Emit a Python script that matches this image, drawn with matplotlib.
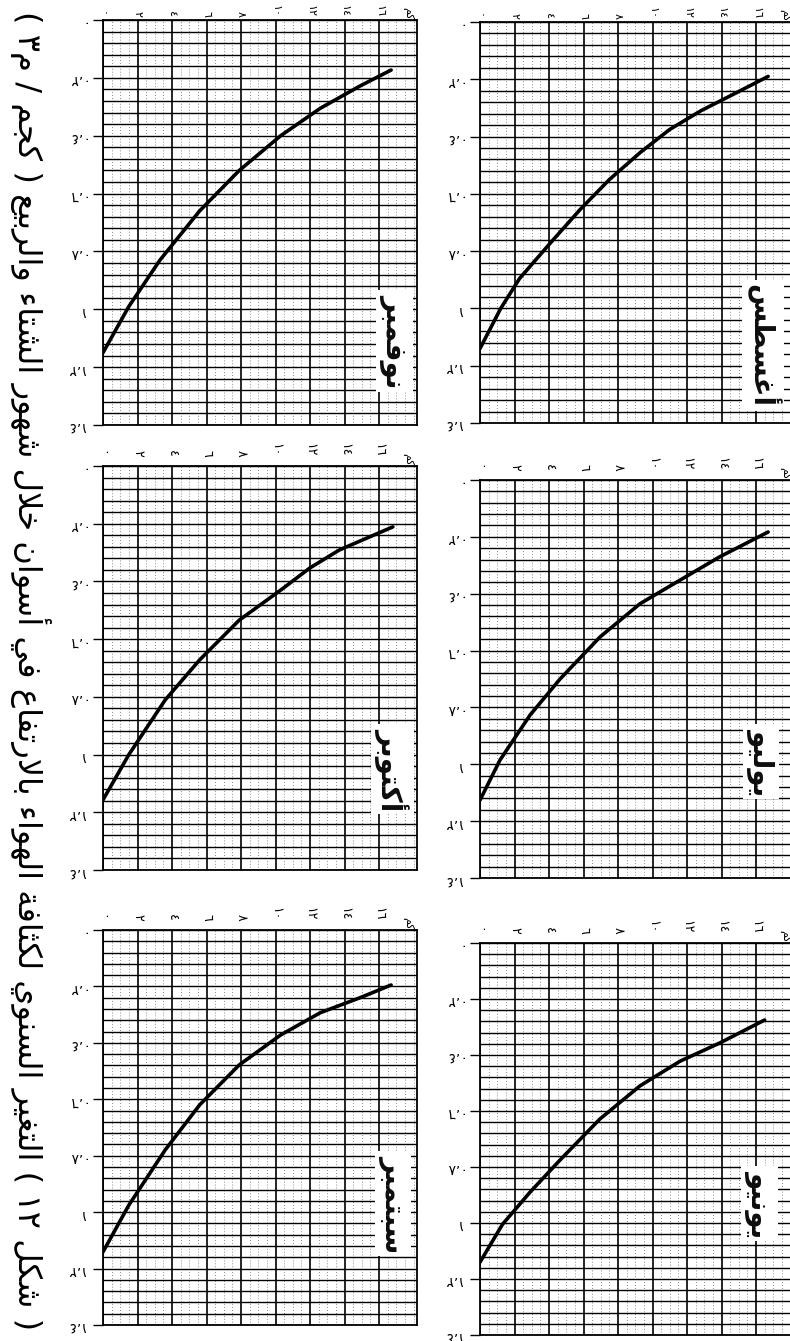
import matplotlib
matplotlib.use("Agg")
import matplotlib.pyplot as plt
import numpy as np

# ---- data (altitude km, air density kg/m3) ----
months = ["نوفمبر", "أغسطس", "أكتوبر", "يوليو", "سبتمبر", "يونيو"]

nov_alt = [0, 1.5, 3.3, 5.6, 7.9, 10.3, 12.6, 14.9, 16.7]
nov_den = [1.15, 0.99, 0.83, 0.66, 0.52, 0.40, 0.305, 0.228, 0.173]

aug_alt = [0, 1.2, 2.3, 4.1, 5.8, 7.5, 9.3, 11.0, 12.8, 14.5, 16.7]
aug_den = [1.14, 1.0, 0.895, 0.77, 0.655, 0.55, 0.455, 0.375, 0.31, 0.258, 0.19]

oct_alt = [0, 1.5, 3.6, 5.6, 7.9, 10.3, 12.0, 13.7, 16.8]
oct_den = [1.157, 1.0, 0.811, 0.672, 0.534, 0.43, 0.353, 0.291, 0.211]

jul_alt = [0, 1.16, 2.9, 4.64, 6.96, 9.28, 11.6, 13.9, 16.7]
jul_den = [1.126, 0.985, 0.827, 0.70, 0.552, 0.435, 0.352, 0.27, 0.183]

sep_alt = [0, 1.5, 3.6, 5.6, 7.9, 10.3, 12.6, 14.9, 16.7]
sep_den = [1.141, 0.975, 0.78, 0.62, 0.478, 0.372, 0.293, 0.24, 0.195]

jun_alt = [0, 1.3, 2.9, 4.64, 6.96, 9.28, 11.6, 13.9, 16.5]
jun_den = [1.14, 1.005, 0.89, 0.775, 0.628, 0.51, 0.422, 0.357, 0.275]

alt_ticks = [0, 2, 4, 6, 8, 10, 12, 14, 16]
den_ticks = [0, 0.2, 0.4, 0.6, 0.8, 1.0, 1.2, 1.4]
den_labels = ["٠", "٠،٢", "٠،٤", "٠،٦", "٠،٨", "١", "١،٢", "١،٤"]

title = "( شكل ١٢ ) التغير السنوي لكثافة الهواء بالارتفاع في أسوان خلال شهور الشتاء والربيع ( كجم / م٣ )"
unit = "كم"

# ---- minimal arabic shaping (matplotlib has no complex text layout) ----
FORMS = {
    "ء": ("\ufe80",),
    "أ": ("\ufe83", "\ufe84"),
    "ا": ("\ufe8d", "\ufe8e"),
    "ب": ("\ufe8f", "\ufe90", "\ufe91", "\ufe92"),
    "ة": ("\ufe93", "\ufe94"),
    "ت": ("\ufe95", "\ufe96", "\ufe97", "\ufe98"),
    "ث": ("\ufe99", "\ufe9a", "\ufe9b", "\ufe9c"),
    "ج": ("\ufe9d", "\ufe9e", "\ufe9f", "\ufea0"),
    "خ": ("\ufea5", "\ufea6", "\ufea7", "\ufea8"),
    "ر": ("\ufead", "\ufeae"),
    "س": ("\ufeb1", "\ufeb2", "\ufeb3", "\ufeb4"),
    "ش": ("\ufeb5", "\ufeb6", "\ufeb7", "\ufeb8"),
    "ط": ("\ufec1", "\ufec2", "\ufec3", "\ufec4"),
    "ع": ("\ufec9", "\ufeca", "\ufecb", "\ufecc"),
    "غ": ("\ufecd", "\ufece", "\ufecf", "\ufed0"),
    "ف": ("\ufed1", "\ufed2", "\ufed3", "\ufed4"),
    "ك": ("\ufed9", "\ufeda", "\ufedb", "\ufedc"),
    "ل": ("\ufedd", "\ufede", "\ufedf", "\ufee0"),
    "م": ("\ufee1", "\ufee2", "\ufee3", "\ufee4"),
    "ن": ("\ufee5", "\ufee6", "\ufee7", "\ufee8"),
    "ه": ("\ufee9", "\ufeea", "\ufeeb", "\ufeec"),
    "و": ("\ufeed", "\ufeee"),
    "ي": ("\ufef1", "\ufef2", "\ufef3", "\ufef4"),
    "لا": ("\ufefb", "\ufefc"),
}
MIRROR = {"(": ")", ")": "("}


def shape(word):
    units, i = [], 0
    while i < len(word):
        if word[i:i + 2] == "لا":
            units.append("لا")
            i += 2
        else:
            units.append(word[i])
            i += 1
    out = []
    for k, u in enumerate(units):
        f = FORMS.get(u)
        if f is None:
            out.append(u)
            continue
        prev = FORMS.get(units[k - 1]) if k > 0 else None
        nxt = FORMS.get(units[k + 1]) if k + 1 < len(units) else None
        jp = prev is not None and len(prev) == 4 and len(f) > 1
        jn = len(f) == 4 and nxt is not None and len(nxt) > 1
        if jp and jn:
            out.append(f[3])
        elif jp:
            out.append(f[1])
        elif jn:
            out.append(f[2])
        else:
            out.append(f[0])
    return out


def rtl(text):
    words = []
    for w in text.split(" "):
        if w and all("\u0660" <= c <= "\u0669" for c in w):
            words.append(w)
        else:
            words.append("".join(MIRROR.get(c, c) for c in reversed(shape(w))))
    return " ".join(reversed(words))


def ar_digits(n):
    return str(n).translate(str.maketrans("0123456789", "٠١٢٣٤٥٦٧٨٩"))


# ---- layout (pixels of the 790 x 1341 page) ----
W, H = 790, 1341
fig = plt.figure(figsize=(W / 100, H / 100), dpi=100)
fig.patch.set_facecolor("white")


def px_box(x0, y0, x1, y1):
    return [x0 / W, 1 - y1 / H, (x1 - x0) / W, (y1 - y0) / H]


panels = [
    (nov_alt, nov_den, (103, 20, 417, 425), (16.9, 1.11)),
    (aug_alt, aug_den, (480, 22, 794, 423), (16.4, 1.13)),
    (oct_alt, oct_den, (103, 466, 417, 870), (16.8, 1.05)),
    (jul_alt, jul_den, (480, 480, 794, 878), (16.3, 0.99)),
    (sep_alt, sep_den, (103, 930, 417, 1325), (16.8, 0.97)),
    (jun_alt, jun_den, (480, 943, 794, 1335), (16.2, 0.93)),
]

for idx, (name, (alt, den, bx, lab)) in enumerate(zip(months, panels)):
    top_row = idx < 2
    ax = fig.add_axes(px_box(*bx))
    ax.set_xlim(0, 18.2)
    ax.set_ylim(1.4, 0)

    ax.set_xticks(alt_ticks)
    ax.set_xticklabels([ar_digits(a) for a in alt_ticks], rotation=-90,
                       fontsize=8 if top_row else 9)
    ax.set_xticks(np.arange(0, 18.2, 0.5), minor=True)
    ax.set_yticks(den_ticks)
    ax.set_yticklabels(den_labels, rotation=180, fontsize=10)
    ax.set_yticks(np.arange(0, 1.401, 0.04), minor=True)

    ax.xaxis.tick_top()
    ax.tick_params(axis="x", which="both", length=0, pad=2 if top_row else 7)
    ax.tick_params(axis="y", which="major", length=7, width=1.0, pad=6)
    ax.tick_params(axis="y", which="minor", length=0)

    ax.grid(True, axis="y", which="both", color="black", linewidth=1.0)
    ax.grid(True, axis="x", which="major", color="black", linewidth=1.2)
    ax.grid(True, axis="x", which="minor", color="0.4",
            linestyle=(0, (1, 2.5)), linewidth=0.6)
    ax.set_axisbelow(True)
    for s in ax.spines.values():
        s.set_linewidth(1.3)

    ax.plot(alt, den, color="black", linewidth=2.6, solid_capstyle="round",
            solid_joinstyle="round", zorder=3)

    ax.text(lab[0], lab[1], rtl(name), rotation=-90, ha="center", va="center",
            fontsize=20, fontweight="bold", color="#0d0d0d", zorder=5,
            bbox=dict(facecolor="white", edgecolor="none", pad=3))
    ax.text(17.7, 1.0, rtl(unit), transform=ax.get_xaxis_transform(),
            rotation=-90, ha="center", va="bottom", fontsize=8, clip_on=False)

# title along the left edge, reading top to bottom
t = fig.text(30 / W, 0.5, rtl(title), rotation=-90, ha="center", va="center",
             fontsize=20, color="black")
fig.canvas.draw()
h = t.get_window_extent(fig.canvas.get_renderer()).height
t.set_fontsize(20 * 1320 / h)

fig.savefig("out.png", dpi=100, facecolor="white")
